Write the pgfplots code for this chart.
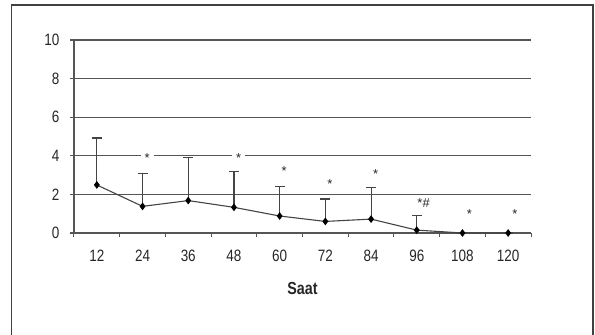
\documentclass[border=0pt]{standalone}
\usepackage{pgfplots}
\pgfplotsset{compat=1.18}
\usepackage{fontspec}
\setmainfont{Liberation Sans}
\newfontfamily\narrow[FakeStretch=0.82]{Liberation Sans}
\definecolor{gridc}{HTML}{555555}
\definecolor{linec}{HTML}{444444}
\begin{document}
\begin{tikzpicture}[x=1bp,y=1bp]
\useasboundingbox (-74bp,-102bp) rectangle (521bp,233bp);
\draw[line width=1.2bp, black!75] (-62.5bp,-102bp) -- (-62.5bp,228bp) -- (519bp,228bp) -- (519bp,-102bp);
\begin{axis}[
  at={(0,0)}, anchor=origin,
  scale only axis, width=457bp, height=193bp,
  xmin=0, xmax=10, ymin=0, ymax=10,
  axis x line*=bottom, axis y line*=left,
  axis line style={gridc, line width=1.2bp, -},
  xtick={0.5,1.5,...,9.5},
  xticklabels={12,24,36,48,60,72,84,96,108,120},
  major x tick style={draw=none},
  minor xtick={0,1,...,10},
  minor tick length=4bp,
  minor x tick style={gridc, line width=1bp},
  xtick align=outside,
  ytick={0,2,...,10},
  ytick align=outside,
  major tick length=4bp,
  major y tick style={gridc, line width=1.2bp},
  ymajorgrids, major grid style={gridc, line width=1.2bp},
  tick label style={font=\narrow\fontsize{16.5}{17}\selectfont, text=black!85},
  /pgf/number format/assume math mode=true,
  xticklabel style={yshift=-9bp},
  yticklabel style={xshift=-7bp},
  xlabel={\bfseries Saat}, xlabel style={font=\narrow\fontsize{17.5}{18}\selectfont, yshift=-14bp, text=black!85},
  clip=false,
]
\addplot[linec, line width=1.1bp, mark=diamond*, mark size=3bp, mark options={black, solid},
  error bars/.cd, y dir=plus, y explicit,
  error bar style={linec, line width=1.1bp},
  error mark options={rotate=90, mark size=5bp, linec, line width=1.1bp}]
  table[x=x, y=y, y error=e] {
x y e
0.5 2.49 2.43
1.5 1.38 1.68
2.5 1.68 2.25
3.5 1.33 1.87
4.5 0.88 1.52
5.5 0.60 1.16
6.5 0.72 1.63
7.5 0.15 0.75
8.5 0.0 0
9.5 0.0 0
};
\addplot[only marks, mark=none, nodes near coords, point meta=explicit symbolic,
  nodes near coords style={anchor=center, font=\fontsize{13}{13}\selectfont, inner sep=1bp, text=black!85}]
  table[x=x, y=y, meta=t] {
x y t
4.6 3.2 *
5.6 2.53 *
6.6 3.05 *
7.65 1.55 *\#
8.65 0.98 *
9.65 0.98 *
};
\addplot[only marks, mark=none, nodes near coords, point meta=explicit symbolic,
  nodes near coords style={anchor=center, font=\fontsize{13}{13}\selectfont, fill=white, inner xsep=4bp, inner ysep=1bp, text=black!85}]
  table[x=x, y=y, meta=t] {
x y t
1.6 3.9 *
3.6 3.9 *
};
\end{axis}
\end{tikzpicture}
\end{document}
